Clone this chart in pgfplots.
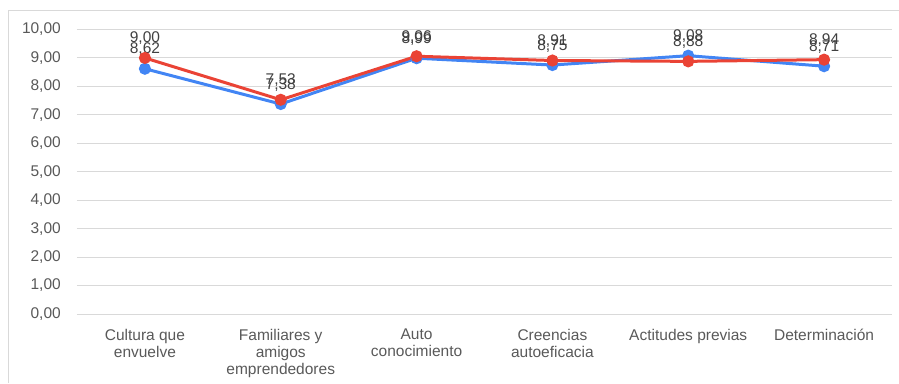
\documentclass[border=0pt]{standalone}
\usepackage{pgfplots}
\pgfplotsset{compat=1.18}
\usepackage{fontspec}
\setmainfont{Liberation Sans}
\definecolor{gblue}{HTML}{4285F4}
\definecolor{gred}{HTML}{EA4335}
\definecolor{gridc}{HTML}{D9D9D9}
\definecolor{tickc}{HTML}{595959}
\definecolor{labc}{HTML}{404040}
\begin{document}
\begin{tikzpicture}
\path[use as bounding box] (0,0) rectangle (899pt,383pt);
\draw[gridc, line width=1pt] (8pt,0pt) -- (8pt,372pt) -- (899pt,372pt);
\begin{axis}[
  at={(77pt,69pt)}, anchor=south west,
  scale only axis, width=815pt, height=284.5pt,
  xmin=-0.5, xmax=5.5, ymin=0, ymax=10,
  axis line style={draw=none},
  xtick={0,1,2,3,4,5},
  xticklabels={{Cultura que\\envuelve},{Familiares y\\amigos\\emprendedores},{Auto\\conocimiento},{Creencias\\autoeficacia},{Actitudes previas},{Determinación}},
  xticklabel style={align=center, font=\fontsize{15.5}{17}\selectfont, text=tickc, inner sep=0pt, yshift=-15pt},
  ytick={0,1,...,10},
  yticklabel style={font=\fontsize{15.5}{17}\selectfont, text=tickc, inner sep=0pt, xshift=-16pt},
  /pgf/number format/assume math mode=true,
  yticklabel={\pgfmathprintnumber[fixed, fixed zerofill, precision=2, use comma]{\tick}},
  major tick length=0pt,
  ymajorgrids, grid style={gridc, line width=1pt},
  clip=false,
  nodes near coords={\pgfmathprintnumber[fixed, fixed zerofill, precision=2, use comma, assume math mode=true]{\pgfplotspointmeta}},
  every node near coord/.append style={font=\fontsize{15.5}{17}\selectfont, text=labc, anchor=base, inner sep=0pt, yshift=15pt},
]
\addplot[gblue, line width=3pt, mark=*, mark size=4.5pt, mark options={solid, fill=gblue, draw=none}] coordinates {
(0,8.62) (1,7.38) (2,8.99) (3,8.75) (4,9.08) (5,8.71)};
\addplot[gred, line width=3pt, mark=*, mark size=4.5pt, mark options={solid, fill=gred, draw=none}] coordinates {
(0,9.00) (1,7.53) (2,9.06) (3,8.91) (4,8.88) (5,8.94)};
\end{axis}
\end{tikzpicture}
\end{document}
